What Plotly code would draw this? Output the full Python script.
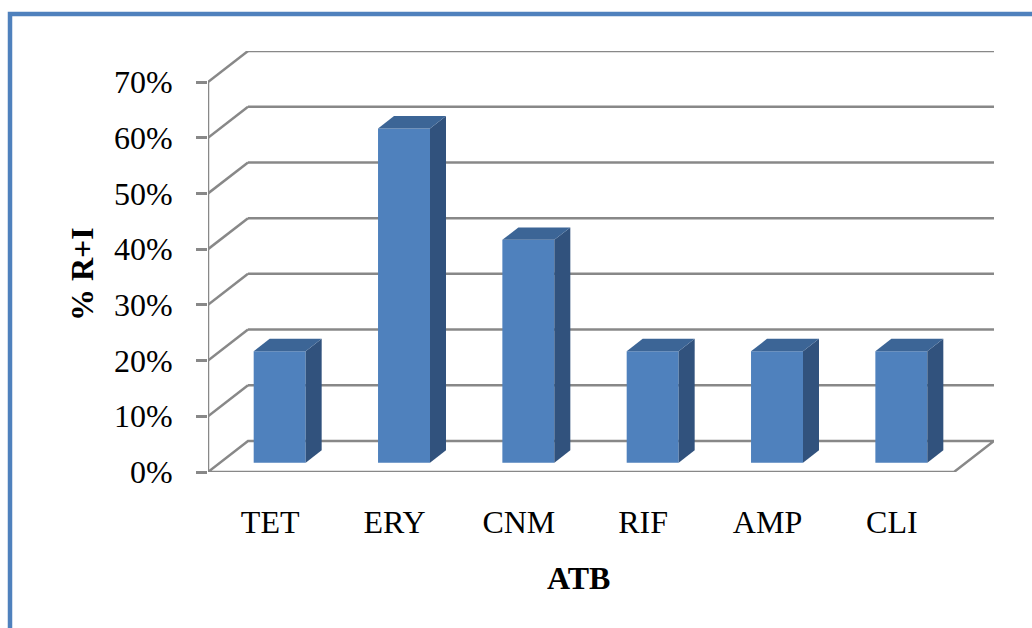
import plotly.graph_objects as go

# Data
categories = ["TET", "ERY", "CNM", "RIF", "AMP", "CLI"]
values = [20, 60, 40, 20, 20, 20]          # % R+I
y_ticks = [0, 10, 20, 30, 40, 50, 60, 70]

# Figure geometry (pixels)
W, H = 1032, 628
ML, MR, MT, MB = 208, 38, 51, 156
PW, PH = W - ML - MR, H - MT - MB

# Oblique projection of the depth axis, in data units
n = len(categories)
DEPTH_PX_X, DEPTH_PX_Y = 40, 31
DX = DEPTH_PX_X * n / (PW - DEPTH_PX_X)
YMAX = max(y_ticks)
DY = DEPTH_PX_Y * YMAX / (PH - DEPTH_PX_Y)

X0, X1 = -0.5, n - 0.5
BAR_W = 0.418
D_FRONT, D_BACK = 0.3, 0.7
BAR_SHIFT = -0.02

GRID = "#888888"
FRONT = "#4F81BD"
SIDE = "#31527D"
TOP = "#3C6596"
FONT = "Liberation Serif, Times New Roman, serif"
FS = 32


def px_x(px):
    return (px - ML) / PW


def px_y(py):
    return (H - MB - py) / PH


shapes = []
# back wall gridlines with their receding left edge
for v in y_ticks:
    if v == 0:
        continue
    shapes.append(dict(type="line", x0=X0, y0=v, x1=X0 + DX, y1=v + DY,
                       line=dict(color=GRID, width=2.5), layer="below"))
    shapes.append(dict(type="line", x0=X0 + DX, y0=v + DY, x1=X1 + DX, y1=v + DY,
                       line=dict(color=GRID, width=2.5), layer="below"))
# floor
shapes.append(dict(type="path",
                   path=f"M {X0},0 L {X1},0 L {X1 + DX},{DY} L {X0 + DX},{DY} Z",
                   line=dict(color=GRID, width=2.5), fillcolor="rgba(0,0,0,0)",
                   layer="below"))
# front vertical axis line
shapes.append(dict(type="line", x0=X0, y0=0, x1=X0, y1=YMAX,
                   line=dict(color=GRID, width=2.5), layer="below"))
# outer frame
shapes.append(dict(type="path", xref="paper", yref="paper",
                   path=f"M {px_x(10)},{px_y(H + 10)} L {px_x(10)},{px_y(14)} L {px_x(W + 10)},{px_y(14)}",
                   line=dict(color="#4F81BD", width=4.5), fillcolor="rgba(0,0,0,0)"))

fig = go.Figure()

base = D_FRONT * DY
T = D_BACK - D_FRONT
xs = [i + BAR_SHIFT + D_FRONT * DX for i in range(n)]

# front faces
fig.add_trace(go.Bar(x=xs, y=values, base=base, width=BAR_W,
                     marker=dict(color=FRONT, line=dict(width=0)),
                     showlegend=False, hoverinfo="skip"))

# side and top faces
for xc, v in zip(xs, values):
    xl, xr = xc - BAR_W / 2, xc + BAR_W / 2
    top = base + v
    fig.add_trace(go.Scatter(
        x=[xr, xr + T * DX, xr + T * DX, xr, xr],
        y=[base, base + T * DY, top + T * DY, top, base],
        fill="toself", fillcolor=SIDE, mode="lines", line=dict(width=0),
        showlegend=False, hoverinfo="skip"))
    fig.add_trace(go.Scatter(
        x=[xl, xr, xr + T * DX, xl + T * DX, xl],
        y=[top, top, top + T * DY, top + T * DY, top],
        fill="toself", fillcolor=TOP, mode="lines", line=dict(width=0),
        showlegend=False, hoverinfo="skip"))

fig.update_layout(
    width=W, height=H,
    margin=dict(l=ML, r=MR, t=MT, b=MB),
    paper_bgcolor="white", plot_bgcolor="white",
    font=dict(family=FONT, color="black"),
    shapes=shapes,
    xaxis=dict(range=[X0, X1 + DX], tickmode="array",
               tickvals=list(range(n)), ticktext=categories,
               showgrid=False, zeroline=False, showline=False, ticks="",
               tickfont=dict(size=FS, family=FONT), ticklabelstandoff=28,
               fixedrange=True),
    yaxis=dict(range=[0, YMAX + DY], tickmode="array", tickvals=y_ticks,
               ticktext=[f"{t}%" for t in y_ticks],
               showgrid=False, zeroline=False, showline=False,
               ticks="outside", ticklen=11, tickwidth=2.5, tickcolor=GRID,
               tickfont=dict(size=FS, family=FONT), ticklabelstandoff=17,
               fixedrange=True),
    annotations=[
        dict(text="<b>ATB</b>", xref="paper", yref="paper",
             x=px_x(578), y=px_y(578), xanchor="center", yanchor="middle",
             showarrow=False, font=dict(size=FS, family=FONT)),
        dict(text="<b>% R+I</b>", xref="paper", yref="paper",
             x=px_x(82), y=px_y(274), xanchor="center", yanchor="middle",
             showarrow=False, textangle=-90,
             font=dict(size=FS, family=FONT)),
    ],
)

fig.write_html("out.html")
